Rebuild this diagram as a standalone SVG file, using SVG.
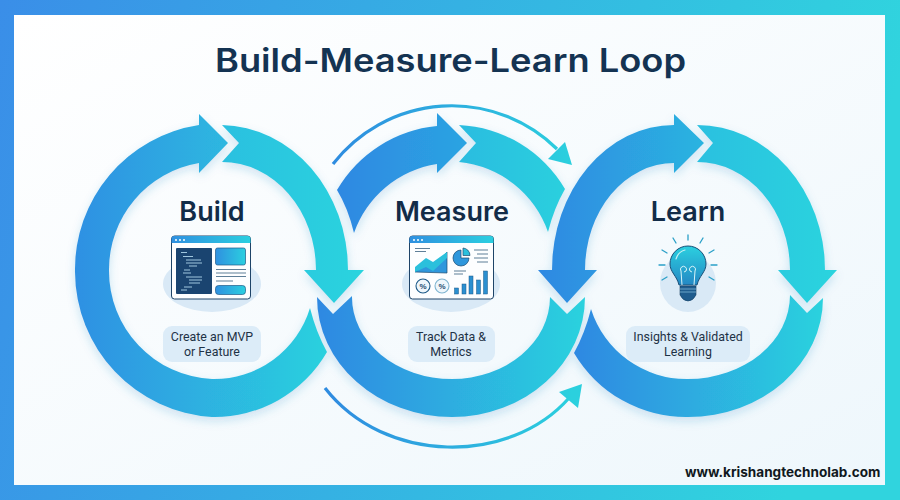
<svg xmlns="http://www.w3.org/2000/svg" width="900" height="500" viewBox="0 0 900 500">
<defs>
<linearGradient id="frame" x1="0" y1="0" x2="1" y2="0.150"><stop offset="0" stop-color="#3a8ee8"/><stop offset="1" stop-color="#30d4de"/></linearGradient>
<linearGradient id="bg" x1="0" y1="0" x2="1" y2="1"><stop offset="0" stop-color="#ffffff"/><stop offset="1" stop-color="#eef7fc"/></linearGradient>
<linearGradient id="gA" gradientUnits="userSpaceOnUse" x1="75" y1="0" x2="330" y2="0"><stop offset="0" stop-color="#2f90e3"/><stop offset="1" stop-color="#2bd2de"/></linearGradient>
<linearGradient id="gC" gradientUnits="userSpaceOnUse" x1="317" y1="0" x2="585" y2="0"><stop offset="0" stop-color="#2f88e2"/><stop offset="1" stop-color="#2bd2de"/></linearGradient>
<linearGradient id="gD" gradientUnits="userSpaceOnUse" x1="337" y1="0" x2="467" y2="0"><stop offset="0" stop-color="#2f88e2"/><stop offset="1" stop-color="#2ba4e2"/></linearGradient>
<linearGradient id="gF" gradientUnits="userSpaceOnUse" x1="538" y1="0" x2="704" y2="0"><stop offset="0" stop-color="#2f88e2"/><stop offset="1" stop-color="#2bb4e0"/></linearGradient>
<linearGradient id="gH" gradientUnits="userSpaceOnUse" x1="574" y1="0" x2="823" y2="0"><stop offset="0" stop-color="#2f88e2"/><stop offset="1" stop-color="#2bd2de"/></linearGradient>
<linearGradient id="gB" gradientUnits="userSpaceOnUse" x1="222" y1="0" x2="364" y2="0"><stop offset="0" stop-color="#2ac0e0"/><stop offset="1" stop-color="#2bd4de"/></linearGradient>
<linearGradient id="gE" gradientUnits="userSpaceOnUse" x1="459" y1="0" x2="565" y2="0"><stop offset="0" stop-color="#2bbce0"/><stop offset="1" stop-color="#2bd0de"/></linearGradient>
<linearGradient id="gG" gradientUnits="userSpaceOnUse" x1="697" y1="0" x2="837" y2="0"><stop offset="0" stop-color="#2bc0e0"/><stop offset="1" stop-color="#2bd4de"/></linearGradient>
<linearGradient id="gT" gradientUnits="userSpaceOnUse" x1="333" y1="0" x2="572" y2="0"><stop offset="0" stop-color="#2f8ce0"/><stop offset="1" stop-color="#2bd0de"/></linearGradient>
<linearGradient id="gI" x1="0" y1="0" x2="1" y2="0"><stop offset="0" stop-color="#2f90e0"/><stop offset="1" stop-color="#2bcfe0"/></linearGradient>
<linearGradient id="gBulb" x1="0" y1="0" x2="0" y2="1"><stop offset="0" stop-color="#2bd0e0"/><stop offset="1" stop-color="#2488c4"/></linearGradient>
<filter id="sh" x="-15%" y="-15%" width="130%" height="130%"><feDropShadow dx="0" dy="4" stdDeviation="5" flood-color="#2a7fc0" flood-opacity="0.2"/></filter>
</defs>
<style>
.title{font:600 32px "Inter","Liberation Sans",sans-serif;fill:#143352}
.head{font:600 27px "Inter","Liberation Sans",sans-serif;fill:#122c48;text-anchor:middle}
.cap{font:400 12.400px "Roboto","Liberation Sans",sans-serif;fill:#1e3246;text-anchor:middle}
.pill{fill:#dcecf8}
.halo{fill:#d9e9f6}
.web{stroke:#1e4468;stroke-width:1;fill:#fdfeff}
.ln{stroke:#5f7f98;stroke-width:1.2;fill:none}
.tk{stroke:#2aa0c8;stroke-width:1.3;stroke-linecap:round}
</style>
<rect width="900" height="500" fill="url(#frame)"/>
<rect x="14" y="15" width="871" height="470" fill="url(#bg)"/>
<text class="title" x="450.500" y="72" text-anchor="middle" textLength="471" lengthAdjust="spacingAndGlyphs">Build-Measure-Learn Loop</text>
<g id="connectors">
<g filter="url(#sh)">
<path fill="url(#gB)" d="M222,125 A128,145 0 0 1 348,270 L364,270 L334,303 L304,270 L316,270 A94,108 0 0 0 222,162 L239,143 Z"/>
<path fill="url(#gA)" d="M199,125 V114 L228,143 L199,173 V163 A108,108 0 0 0 109,270 A108,108 0 0 0 212,379 A100,100 0 0 0 310,308 Q316,332 327,352 A130,130 0 0 1 212,417 A146,146 0 0 1 75,272 A146,146 0 0 1 199,125 Z"/>
<path fill="url(#gE)" d="M459,125 L476,143 L459,162 A105,105 0 0 1 548,232 Q554,208 565,189 A130,130 0 0 0 459,125 Z"/>
<path fill="url(#gD)" d="M337,190 A130,130 0 0 1 437,126 V113 L467,143 L437,173 V164 A105,105 0 0 0 354,233 Q348,208 337,190 Z"/>
<path fill="url(#gC)" d="M317,297 L333,314 L352,296 A100,82 0 0 0 452,379 A98,82 0 0 0 550,297 L567,314 L585,297 A133,120 0 0 1 452,417 A135,120 0 0 1 317,297 Z"/>
<path fill="url(#gG)" d="M697,125 A128,145 0 0 1 825,270 H837 L807,303 L778,270 H790 A93,108 0 0 0 697,162 L713,143 Z"/>
<path fill="url(#gF)" d="M674,125 V114 L704,143 L674,173 V163 A89,107 0 0 0 585,270 H597 L567,303 L538,270 H552 A122,145 0 0 1 674,125 Z"/>
<path fill="url(#gH)" d="M823,298 L807,313 L790,295 A102,84 0 0 1 688,379 A100,100 0 0 1 591,309 Q585,333 574,353 A130,130 0 0 0 688,417 A135,119 0 0 0 823,298 Z"/>
</g>
<path fill="none" stroke="url(#gT)" stroke-width="3.2" d="M333,164 A150,150 0 0 1 557,149"/>
<path fill="url(#gT)" d="M572,165 L565,142 L548,159 Z"/>
<path fill="none" stroke="url(#gT)" stroke-width="3.2" d="M325,388 C385,465 510,465 569,398"/>
<path fill="url(#gT)" d="M582,384 L559,392 L578,408 Z"/>
</g>
<g id="build">
<text class="head" x="212" y="221">Build</text>
<ellipse class="halo" cx="212" cy="284" rx="49" ry="28"/>
<rect class="web" x="171.500" y="236" width="79" height="63" rx="3"/>
<path fill="url(#gI)" d="M171.500,243 V239 a3,3 0 0 1 3,-3 H247.500 a3,3 0 0 1 3,3 V243 Z"/>
<circle cx="176" cy="240" r="1" fill="#fff"/><circle cx="180" cy="240" r="1" fill="#fff"/><circle cx="184" cy="240" r="1" fill="#fff"/>
<rect x="176" y="248" width="36" height="46" fill="#1a4470" rx="1"/>
<path stroke="#9fc6de" stroke-width="1" fill="none" d="M181,252.500h6M183,256.500h10M186,260h15M186,263h16M189,266h8M184,270h6M183,273h8M186,277h16M189,280h13M189,283h11M184,287h8M181,290h6"/>
<rect x="215.500" y="248" width="30" height="17" rx="2" fill="url(#gI)" stroke="#1e5a88" stroke-width=".7"/>
<path class="ln" d="M216,269.500h30M216,273h30M216,276.500h30M216,281h17"/>
<rect x="215.500" y="285.500" width="30" height="9" rx="3" fill="url(#gI)" stroke="#1e5a88" stroke-width=".7"/>
<rect class="pill" x="163" y="326" width="98" height="36" rx="9"/>
<text class="cap" x="212" y="341">Create an MVP</text>
<text class="cap" x="212" y="356">or Feature</text>
</g>
<g id="measure">
<text class="head" x="452" y="221">Measure</text>
<ellipse class="halo" cx="451" cy="284" rx="49" ry="28"/>
<rect class="web" x="409.500" y="236" width="84" height="63" rx="3"/>
<path fill="url(#gI)" d="M409.500,243 V239 a3,3 0 0 1 3,-3 H490.500 a3,3 0 0 1 3,3 V243 Z"/>
<circle cx="414" cy="240" r="1" fill="#fff"/><circle cx="418" cy="240" r="1" fill="#fff"/><circle cx="422" cy="240" r="1" fill="#fff"/>
<path class="ln" d="M415,248.500h15M415,251.500h11M454,271h12M454,274h9"/>
<path fill="#2f97dc" stroke="#1d4a70" stroke-width=".7" d="M415,272 L426,263 L433,267 L447,252 V273 Z"/>
<path fill="#2bc0dc" d="M415,272 V267 L426,258 L433,262 L447,252 V258 L433,271 L426,267 Z"/>
<path fill="#2f97dc" stroke="#1d4a70" stroke-width=".7" d="M461,250 A8,8 0 1 0 469,258 H461 Z"/>
<path fill="#2bc0dc" stroke="#1d4a70" stroke-width=".7" d="M463,248 A7.500,7.500 0 0 1 470,255.500 H463 Z"/>
<circle cx="423" cy="286" r="7" fill="#eef6fb" stroke="#1d5a88" stroke-width="1.100"/>
<circle cx="442" cy="286" r="7" fill="#eef6fb" stroke="#7fb4d0" stroke-width="1.100"/>
<text x="423" y="289" font-family="Liberation Sans, sans-serif" font-size="8" font-weight="700" fill="#1d4a70" text-anchor="middle">%</text>
<text x="442" y="289" font-family="Liberation Sans, sans-serif" font-size="8" font-weight="700" fill="#1d4a70" text-anchor="middle">%</text>
<g fill="#2b8fd0" stroke="#1d5a88" stroke-width=".5"><rect x="454.500" y="288" width="4" height="6"/><rect x="462" y="284" width="4" height="10"/><rect x="469" y="276" width="4" height="18"/><rect x="476.500" y="280" width="4" height="14"/><rect x="483.500" y="271" width="4" height="23"/></g>
<path class="ln" d="M474,250h14M477,254h11M474,258h14M477,262h11"/>
<rect class="pill" x="408" y="326" width="87" height="36" rx="9"/>
<text class="cap" x="451" y="341">Track Data &amp;</text>
<text class="cap" x="451" y="356">Metrics</text>
</g>
<g id="learn">
<text class="head" x="688" y="221">Learn</text>
<ellipse class="halo" cx="688" cy="283" rx="28" ry="29"/>
<path class="tk" d="M688,235v5M673,238l3,5M703,238l-3,5M662,250l5,3M714,250l-5,3M659,265h6M717,265h-6M662,280l5,-3M714,280l-5,-3"/>
<path fill="url(#gBulb)" stroke="#1a5078" stroke-width="1" d="M688,246 a18,18 0 0 1 18,18 c0,8 -7,12 -9,21 h-18 c-2,-9 -9,-13 -9,-21 a18,18 0 0 1 18,-18 Z"/>
<path fill="none" stroke="#d8f4f8" stroke-width="1" d="M682,285 L681,271 a3,3 0 1 1 5,0 L684,272 M694,285 L695,271 a3,3 0 1 0 -5,0 L692,272"/>
<path fill="none" stroke="#c8f0f4" stroke-width="1.200" stroke-linecap="round" d="M676,259 q2,-7 9,-9"/>
<path fill="#1f5c8e" stroke="#173f63" stroke-width=".6" d="M680,286 h16 v9 q-3,6 -8,6 q-5,0 -8,-6 Z"/>
<path stroke="#7fb8d8" stroke-width=".8" d="M680,289h16M680,292h16"/>
<rect class="pill" x="626" y="326" width="124" height="36" rx="9"/>
<text class="cap" x="688" y="341">Insights &amp; Validated</text>
<text class="cap" x="688" y="356">Learning</text>
</g>
<text x="880.500" y="477" text-anchor="end" textLength="195.500" lengthAdjust="spacingAndGlyphs" font-family="Inter, Liberation Sans, sans-serif" font-weight="700" font-size="13.500" fill="#101820">www.krishangtechnolab.com</text>
</svg>
